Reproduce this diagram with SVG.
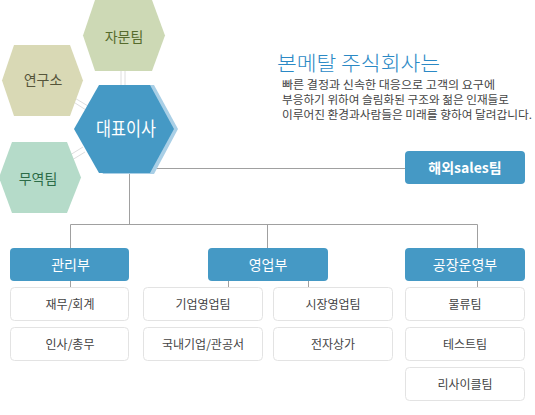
<svg xmlns="http://www.w3.org/2000/svg" width="535" height="415" viewBox="0 0 535 415">
<style>
text{font-family:"Noto Sans CJK KR","Noto Sans",sans-serif;}
.hexlbl{font-size:14px;text-anchor:middle;}
.dept{fill:#4599c5;}
.depttxt{fill:#ffffff;font-size:14px;text-anchor:middle;}
.sub{fill:#ffffff;stroke:#e3e3e3;stroke-width:1;}
.subtxt{fill:#444444;font-size:12px;text-anchor:middle;}
.conn{stroke:#a0a0a0;stroke-width:1;fill:none;}
.dbl{stroke:#dedede;stroke-width:1;fill:none;}
.body{fill:#444444;font-size:11.5px;}
</style>
<rect width="535" height="415" fill="#ffffff"/>

<g id="connectors">
  <line class="dbl" x1="121" y1="71" x2="121" y2="86"/>
  <line class="dbl" x1="125" y1="71" x2="125" y2="86"/>
  <line class="dbl" x1="73" y1="97" x2="88" y2="106"/>
  <line class="dbl" x1="72" y1="101" x2="86" y2="110"/>
  <line class="dbl" x1="70" y1="155" x2="83" y2="147"/>
  <line class="dbl" x1="72" y1="160" x2="85" y2="152"/>
  <polyline class="conn" points="156,168.5 405,168.5"/>
  <line class="conn" x1="129.5" y1="173" x2="129.5" y2="224"/>
  <polyline class="conn" points="70.5,248 70.5,224.5 477.5,224.5 477.5,248"/>
  <line class="conn" x1="267.5" y1="224" x2="267.5" y2="248"/>
  <line class="conn" x1="70.5" y1="281" x2="70.5" y2="287"/>
  <line class="conn" x1="228.5" y1="281" x2="228.5" y2="287"/>
  <line class="conn" x1="308.5" y1="281" x2="308.5" y2="287"/>
  <line class="conn" x1="477.5" y1="281" x2="477.5" y2="287"/>
</g>

<g id="jamun">
  <polygon points="95,0 152,0 165,35.5 152,71 95,71 83,35.5" fill="#cdd9b5"/>
  <text class="hexlbl" x="124" y="41.5" fill="#566b2c">자문팀</text>
</g>
<g id="yeonguso">
  <polygon points="14,45 70,45 83,80.5 70,116 14,116 2,80.5" fill="#d9d9b5"/>
  <text class="hexlbl" x="43" y="85" fill="#55553a">연구소</text>
</g>
<g id="muyeok">
  <polygon points="12,142 67,142 81,177.5 67,213 12,213 -1,177.5" fill="#b5dbc9"/>
  <text class="hexlbl" x="38" y="183.5" fill="#2c6b47">무역팀</text>
</g>
<g id="ceo">
  <polygon points="103,85 154,85 178,129 154,174 103,174 78,129" fill="#a9cfe6"/>
  <polygon points="99,85 150,85 174,129 150,173 99,173 74,129" fill="#4599c5"/>
  <text x="126" y="136" fill="#ffffff" font-size="19" text-anchor="middle" textLength="60" lengthAdjust="spacingAndGlyphs">대표이사</text>
</g>

<g id="intro">
  <text x="277" y="71" fill="#2b89c5" font-size="20" font-weight="300" textLength="163" lengthAdjust="spacingAndGlyphs">본메탈 주식회사는</text>
  <text class="body" x="282" y="89" textLength="213" lengthAdjust="spacingAndGlyphs">빠른 결정과 신속한 대응으로 고객의 요구에</text>
  <text class="body" x="282" y="104" textLength="227" lengthAdjust="spacingAndGlyphs">부응하기 위하여 슬림화된 구조와 젊은 인재들로</text>
  <text class="body" x="282" y="119" textLength="250" lengthAdjust="spacingAndGlyphs">이루어진 환경과사람들은 미래를 향하여 달려갑니다.</text>
</g>

<g id="overseas">
  <rect class="dept" x="405" y="151" width="120" height="33" rx="4"/>
  <text class="depttxt" x="465" y="172.5" font-weight="bold">해외sales팀</text>
</g>

<g id="gwanri">
  <rect class="dept" x="10" y="248" width="119" height="33" rx="4"/>
  <text class="depttxt" x="70.5" y="269.5">관리부</text>
</g>
<g id="yeongeop">
  <rect class="dept" x="208" y="248" width="120" height="33" rx="4"/>
  <text class="depttxt" x="268" y="269.5">영업부</text>
</g>
<g id="factory">
  <rect class="dept" x="405" y="248" width="120" height="33" rx="4"/>
  <text class="depttxt" x="465" y="269.5">공장운영부</text>
</g>

<g id="jaemu">
  <rect class="sub" x="10.5" y="287.5" width="118" height="33" rx="4"/>
  <text class="subtxt" x="70" y="308.5">재무/회계</text>
</g>
<g id="insa">
  <rect class="sub" x="10.5" y="327.5" width="118" height="33" rx="4"/>
  <text class="subtxt" x="70" y="348.5">인사/총무</text>
</g>
<g id="gieop">
  <rect class="sub" x="143.5" y="287.5" width="119" height="33" rx="4"/>
  <text class="subtxt" x="203" y="308.5">기업영업팀</text>
</g>
<g id="gungnae">
  <rect class="sub" x="143.5" y="327.5" width="119" height="33" rx="4"/>
  <text class="subtxt" x="203" y="348.5">국내기업/관공서</text>
</g>
<g id="sijang">
  <rect class="sub" x="273.5" y="287.5" width="119" height="33" rx="4"/>
  <text class="subtxt" x="333" y="308.5">시장영업팀</text>
</g>
<g id="jeonja">
  <rect class="sub" x="273.5" y="327.5" width="119" height="33" rx="4"/>
  <text class="subtxt" x="333" y="348.5">전자상가</text>
</g>
<g id="mullyu">
  <rect class="sub" x="405.5" y="287.5" width="119" height="33" rx="4"/>
  <text class="subtxt" x="465" y="308.5">물류팀</text>
</g>
<g id="test">
  <rect class="sub" x="405.5" y="327.5" width="119" height="33" rx="4"/>
  <text class="subtxt" x="465" y="348.5">테스트팀</text>
</g>
<g id="recycle">
  <rect class="sub" x="405.5" y="367.5" width="119" height="33" rx="4"/>
  <text class="subtxt" x="465" y="388.5">리사이클팀</text>
</g>
</svg>
